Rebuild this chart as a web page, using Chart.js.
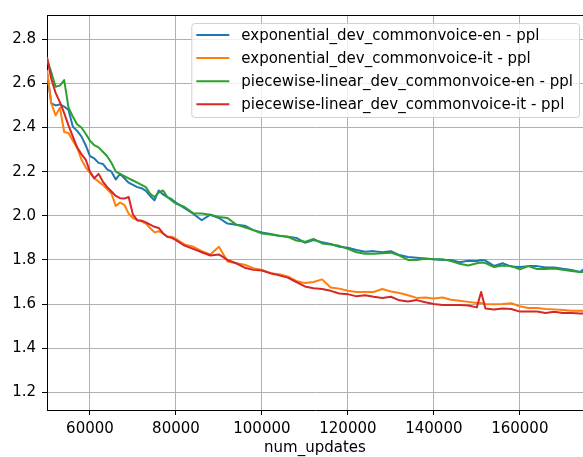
<!DOCTYPE html>
<html>
<head>
<meta charset="utf-8">
<script src="https://cdn.jsdelivr.net/npm/chart.js@4.4.0/dist/chart.umd.min.js"></script>
<style>
  html, body { margin: 0; padding: 0; background: #fff; }
  canvas { display: block; }
</style>
</head>
<body>
<canvas id="chart" width="583" height="457"></canvas>
<script>
// values
const numUpdates = [
  50000, 51000, 52000, 53000, 54000, 55000, 56000, 57000, 58000, 59000,
  60000, 61000, 62000, 63000, 64000, 65000, 66000, 67000, 68000, 69000,
  70000, 71000, 72000, 73000, 74000, 75000, 76000, 77000, 78000, 79000,
  80000, 82000, 84000, 86000, 88000, 90000, 92000, 94000, 96000, 98000,
  100000, 102000, 104000, 106000, 108000, 110000, 112000, 114000, 116000, 118000,
  120000, 122000, 124000, 126000, 128000, 130000, 132000, 134000, 136000, 138000,
  140000, 142000, 144000, 146000, 148000, 150000, 151000, 152000, 154000, 156000,
  158000, 160000, 162000, 164000, 166000, 168000, 170000, 172000, 174000, 175000
];

const expEn = [
  2.65, 2.51, 2.50, 2.505, 2.495, 2.48, 2.405, 2.385, 2.36, 2.32,
  2.27, 2.26, 2.24, 2.235, 2.21, 2.20, 2.165, 2.19, 2.17, 2.15,
  2.14, 2.13, 2.125, 2.113, 2.09, 2.07, 2.115, 2.097, 2.085, 2.075,
  2.06, 2.035, 2.01, 1.98, 2.005, 1.99, 1.965, 1.96, 1.955, 1.935,
  1.925, 1.918, 1.91, 1.905, 1.90, 1.878, 1.89, 1.88, 1.872, 1.86,
  1.855, 1.845, 1.837, 1.84, 1.835, 1.84, 1.822, 1.813, 1.81, 1.807,
  1.803, 1.80, 1.80, 1.79, 1.796, 1.795, 1.80, 1.797, 1.773, 1.785,
  1.77, 1.768, 1.772, 1.772, 1.766, 1.766, 1.76, 1.755, 1.745, 1.76
];

const expIt = [
  2.66, 2.51, 2.455, 2.49, 2.38, 2.375, 2.34, 2.31, 2.255, 2.22,
  2.195, 2.17, 2.155, 2.14, 2.12, 2.10, 2.045, 2.06, 2.05, 2.01,
  1.99, 1.98, 1.975, 1.965, 1.945, 1.925, 1.93, 1.92, 1.905, 1.905,
  1.896, 1.87, 1.86, 1.84, 1.825, 1.86, 1.793, 1.785, 1.778, 1.763,
  1.755, 1.74, 1.735, 1.725, 1.705, 1.695, 1.70, 1.712, 1.675, 1.67,
  1.66, 1.655, 1.655, 1.655, 1.668, 1.657, 1.65, 1.64, 1.628, 1.63,
  1.625, 1.63, 1.62, 1.615, 1.61, 1.605, 1.605, 1.60, 1.599, 1.60,
  1.604, 1.59, 1.582, 1.582, 1.578, 1.576, 1.573, 1.57, 1.57, 1.57
];

const pwlEn = [
  2.71, 2.65, 2.585, 2.59, 2.615, 2.49, 2.45, 2.415, 2.40, 2.372,
  2.34, 2.32, 2.31, 2.29, 2.27, 2.24, 2.20, 2.19, 2.18, 2.17,
  2.16, 2.15, 2.14, 2.13, 2.10, 2.085, 2.105, 2.115, 2.085, 2.07,
  2.055, 2.04, 2.012, 2.01, 2.005, 1.995, 1.99, 1.96, 1.948, 1.935,
  1.92, 1.915, 1.91, 1.905, 1.888, 1.882, 1.895, 1.875, 1.87, 1.864,
  1.85, 1.835, 1.828, 1.828, 1.83, 1.833, 1.82, 1.80, 1.80, 1.805,
  1.803, 1.803, 1.795, 1.783, 1.775, 1.785, 1.788, 1.786, 1.768, 1.775,
  1.772, 1.757, 1.772, 1.759, 1.759, 1.761, 1.755, 1.75, 1.745, 1.745
];

const pwlIt = [
  2.72, 2.62, 2.557, 2.515, 2.465, 2.41, 2.36, 2.31, 2.28, 2.255,
  2.20, 2.17, 2.19, 2.155, 2.13, 2.11, 2.09, 2.08, 2.078, 2.085,
  2.005, 1.98, 1.978, 1.97, 1.96, 1.95, 1.945, 1.92, 1.905, 1.90,
  1.89, 1.865, 1.85, 1.835, 1.82, 1.825, 1.80, 1.785, 1.765, 1.755,
  1.752, 1.74, 1.73, 1.72, 1.70, 1.68, 1.672, 1.668, 1.66, 1.648,
  1.645, 1.635, 1.64, 1.633, 1.628, 1.633, 1.617, 1.612, 1.618, 1.608,
  1.60, 1.596, 1.596, 1.596, 1.594, 1.585, 1.655, 1.58, 1.575, 1.58,
  1.578, 1.566, 1.566, 1.566, 1.56, 1.565, 1.56, 1.56, 1.557, 1.557
];

const seriesNames = [
  'exponential_dev_commonvoice-en - ppl',
  'exponential_dev_commonvoice-it - ppl',
  'piecewise-linear_dev_commonvoice-en - ppl',
  'piecewise-linear_dev_commonvoice-it - ppl'
];
const seriesColors = ['#1f77b4', '#ff7f0e', '#2ca02c', '#d62728'];
const seriesValues = [expEn, expIt, pwlEn, pwlIt];

const xTicks = [60000, 80000, 100000, 120000, 140000, 160000];
const yTicks = [1.2, 1.4, 1.6, 1.8, 2.0, 2.2, 2.4, 2.6, 2.8];

const FONT = "'DejaVu Sans', sans-serif";
Chart.defaults.font.family = FONT;
Chart.defaults.font.size = 15;
Chart.defaults.color = '#000';

// matplotlib-like legend box inside the axes + top spine
const mplLegend = {
  id: 'mplLegend',
  afterDraw(chart) {
    const ctx = chart.ctx;
    const area = chart.chartArea;
    ctx.save();

    ctx.strokeStyle = '#000';
    ctx.lineWidth = 1;
    ctx.beginPath();
    ctx.moveTo(area.left, area.top + 0.5);
    ctx.lineTo(area.right, area.top + 0.5);
    ctx.stroke();

    ctx.font = '15px ' + FONT;
    let maxW = 0;
    seriesNames.forEach(n => { maxW = Math.max(maxW, ctx.measureText(n).width); });
    const rowH = 23.1;
    const boxW = 5 + 33 + 12 + maxW + 6;
    const boxH = 94;
    const bx = area.right - 4 - boxW;
    const by = area.top + 8;

    ctx.fillStyle = 'rgba(255,255,255,0.8)';
    ctx.strokeStyle = 'rgba(204,204,204,0.9)';
    ctx.beginPath();
    ctx.roundRect(bx + 0.5, by + 0.5, boxW, boxH, 3);
    ctx.fill();
    ctx.stroke();

    ctx.textBaseline = 'middle';
    ctx.textAlign = 'left';
    seriesNames.forEach((name, i) => {
      const cy = by + 12 + i * rowH;
      ctx.strokeStyle = seriesColors[i];
      ctx.lineWidth = 2;
      ctx.beginPath();
      ctx.moveTo(bx + 5, cy);
      ctx.lineTo(bx + 38, cy);
      ctx.stroke();
      ctx.fillStyle = '#000';
      ctx.fillText(name, bx + 50, cy + 1);
    });
    ctx.restore();
  }
};

const datasets = seriesValues.map((vals, i) => ({
  label: seriesNames[i],
  data: numUpdates.map((x, j) => ({ x: x, y: vals[j] })),
  borderColor: seriesColors[i],
  backgroundColor: seriesColors[i],
  borderWidth: 2,
  pointRadius: 0,
  tension: 0,
  fill: false,
  borderJoinStyle: 'round',
  order: 4 - i
}));

new Chart(document.getElementById('chart'), {
  type: 'line',
  data: { datasets: datasets },
  plugins: [mplLegend],
  options: {
    responsive: false,
    animation: false,
    layout: { padding: { top: 7, right: 0, left: 0, bottom: 0 } },
    plugins: {
      legend: { display: false },
      tooltip: { enabled: false }
    },
    scales: {
      x: {
        type: 'linear',
        min: 50000,
        max: 174700,
        afterBuildTicks: s => { s.ticks = xTicks.map(v => ({ value: v })); },
        afterFit: s => { s.height = 47; },
        ticks: {
          padding: 5,
          maxRotation: 0,
          callback: v => String(v)
        },
        grid: { color: '#b0b0b0', lineWidth: 1, tickColor: '#000', tickLength: 5 },
        border: { display: true, color: '#000', width: 1 },
        title: {
          display: true,
          text: 'num_updates',
          padding: { top: 0, bottom: 0 }
        }
      },
      y: {
        min: 1.12,
        max: 2.91,
        afterBuildTicks: s => { s.ticks = yTicks.map(v => ({ value: v })); },
        afterFit: s => { s.width = 47; },
        ticks: {
          padding: 6,
          callback: v => v.toFixed(1)
        },
        grid: { color: '#b0b0b0', lineWidth: 1, tickColor: '#000', tickLength: 5 },
        border: { display: true, color: '#000', width: 1 }
      }
    }
  }
});
</script>
</body>
</html>
